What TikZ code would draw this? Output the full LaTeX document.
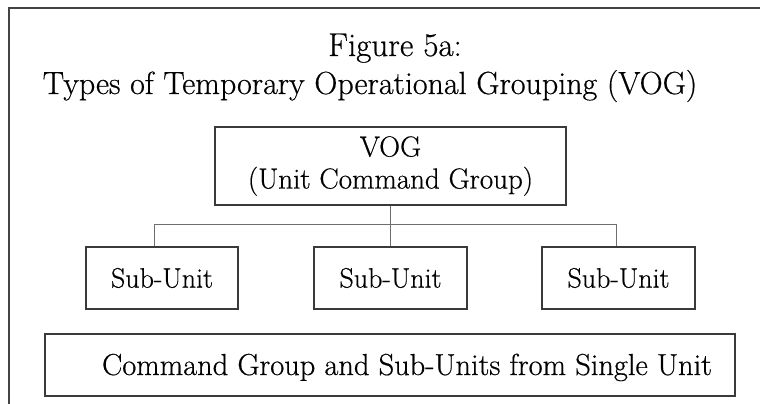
\documentclass[tikz,border=0pt]{standalone}
\usepackage{fontspec}
\setmainfont{Latin Modern Roman}[FakeBold=0.5]
\definecolor{boxline}{HTML}{3A3A3A}
\definecolor{linkline}{HTML}{6E6E6E}
\definecolor{frameline}{HTML}{444444}
\tikzset{
  txt/.style={inner sep=0pt},
  unitbox/.style={draw=boxline, line width=1.2pt, rectangle, inner sep=0pt,
    font=\fontsize{28}{32}\selectfont, align=center},
  link/.style={draw=linkline, line width=0.9pt},
}
\begin{document}
\begin{tikzpicture}[x=1pt, y=-1pt]
  \useasboundingbox (0,0) rectangle (760,404);
  % open frame: left and top edges only
  \coordinate (fbl) at (9,404);
  \coordinate (ftl) at (9,8);
  \coordinate (ftr) at (760,8);
  \draw[frameline, line width=1.2pt] (fbl) -- (ftl) -- (ftr);

  % title
  \node[txt, anchor=base, font=\fontsize{33}{36}\selectfont] (title1) at (395,56) {Figure 5a:};
  \node[txt, anchor=base, font=\fontsize{32}{36}\selectfont] (title2) at (370,94)
    {Types of Temporary Operational Grouping (VOG)};

  % command group box
  \node[unitbox, minimum width=351pt, minimum height=78pt,
        font=\fontsize{29}{32}\selectfont] (vog) at (390.5,166)
    {VOG\\(Unit Command Group)};

  % sub-unit boxes
  \node[unitbox, minimum width=152pt, minimum height=62pt] (su1) at (162,278) {Sub-Unit};
  \node[unitbox, minimum width=153pt, minimum height=62pt] (su2) at (390.5,278) {Sub-Unit};
  \node[unitbox, minimum width=153pt, minimum height=62pt] (su3) at (618.5,278) {Sub-Unit};

  % caption box
  \node[unitbox, minimum width=690pt, minimum height=62pt] (cmd) at (390,365) {};
  \node[txt, anchor=base, font=\fontsize{30.4}{34}\selectfont] (cmdtext) at (407,375)
    {Command Group and Sub-Units from Single Unit};

  % tree connectors
  \coordinate (busl) at (154,224);
  \coordinate (busr) at (616,224);
  \draw[link] (vog.south) -- (su2.north);
  \draw[link] (busl) -- (busr);
  \draw[link] (busl) -- (busl |- su1.north);
  \draw[link] (busr) -- (busr |- su3.north);
\end{tikzpicture}
\end{document}
